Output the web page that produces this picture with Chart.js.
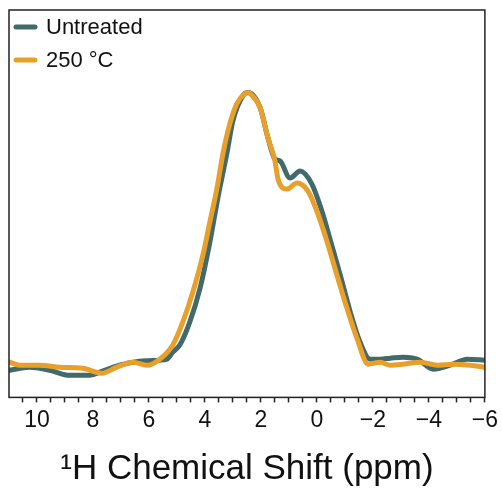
<!DOCTYPE html>
<html>
<head>
<meta charset="utf-8">
<script src="https://cdn.jsdelivr.net/npm/chart.js@4.4.0/dist/chart.umd.min.js"></script>
<style>
html, body { margin: 0; padding: 0; background: #fff; }
#wrap { width: 502px; height: 491px; }
</style>
</head>
<body>
<div id="wrap"><canvas id="nmr-chart"></canvas></div>
<script>
// 1H MAS NMR, intensities in arbitrary units
const untreatedShift = [10.98, 10.27, 9.55, 8.83, 8.12, 7.76, 7.05, 6.33, 5.61, 5.36, 5.15, 4.90, 4.54, 4.18, 3.82, 3.54, 3.22, 3.00, 2.64, 2.46, 2.03, 1.75, 1.50, 1.32, 0.96, 0.60, 0.18, -0.18, -0.46, -0.83, -1.19, -1.54, -1.90, -2.26, -2.62, -3.08, -3.58, -4.16, -4.76, -5.37, -6.0];
const untreatedIntensity = [27, 30, 27, 22, 22, 25, 32, 36, 37, 38, 45, 52, 75, 108, 155, 198, 242, 275, 300, 303, 288, 258, 237, 235, 218, 225, 212, 185, 158, 122, 85, 55, 38, 38, 39, 40, 38, 28, 32, 38, 37];
const heatedShift = [10.98, 10.62, 9.91, 9.19, 8.37, 7.69, 7.15, 6.58, 6.08, 5.61, 5.15, 4.79, 4.43, 4.07, 3.82, 3.57, 3.36, 3.11, 2.86, 2.57, 2.46, 2.39, 2.03, 1.75, 1.50, 1.39, 1.07, 0.71, 0.32, 0.00, -0.36, -0.71, -1.08, -1.44, -1.83, -2.26, -2.62, -3.08, -3.69, -4.30, -4.86, -5.48, -6.0];
const heatedIntensity = [35, 32, 32, 30, 29, 24, 30, 35, 32, 38, 52, 75, 105, 142, 175, 208, 242, 272, 292, 302, 303, 302, 288, 258, 235, 217, 207, 213, 205, 185, 155, 122, 88, 58, 33, 35, 32, 33, 35, 32, 33, 32, 30];
const seriesNames = ['Untreated', '250 °C'];
const seriesColors = ['#426a6b', '#e8a02a'];
const majorTicks = [10, 8, 6, 4, 2, 0, -2, -4, -6];

const fontFamily = "'Liberation Sans', Arial, Helvetica, sans-serif";

function toPoints(xs, ys) {
    return xs.map((x, i) => ({x: x, y: ys[i]}));
}

// box round the plot area
const frameBox = {
    id: 'frameBox',
    afterDraw(chart) {
        const {ctx, chartArea: {left, top, width, height}} = chart;
        ctx.save();
        ctx.strokeStyle = '#222';
        ctx.lineWidth = 1.5;
        ctx.strokeRect(left, top, width, height);
        ctx.restore();
    }
};

// legend in the top left corner of the plot, drawn from the datasets
const cornerLegend = {
    id: 'cornerLegend',
    afterDraw(chart) {
        const {ctx, chartArea: {left, top}} = chart;
        ctx.save();
        chart.data.datasets.forEach((ds, i) => {
            const y = top + 17 + i * 33;
            ctx.strokeStyle = ds.borderColor;
            ctx.lineWidth = 5;
            ctx.lineCap = 'round';
            ctx.beginPath();
            ctx.moveTo(left + 7, y);
            ctx.lineTo(left + 26, y);
            ctx.stroke();
            ctx.fillStyle = '#111';
            ctx.font = '22px ' + fontFamily;
            ctx.textBaseline = 'middle';
            ctx.fillText(ds.label, left + 37, y + 1);
        });
        ctx.restore();
    }
};

new Chart('nmr-chart', {
    type: 'line',
    data: {
        datasets: [{
            label: seriesNames[0],
            data: toPoints(untreatedShift, untreatedIntensity),
            borderColor: seriesColors[0],
            backgroundColor: seriesColors[0],
            borderWidth: 5,
            borderCapStyle: 'round',
            borderJoinStyle: 'round',
            pointRadius: 0,
            cubicInterpolationMode: 'monotone',
            fill: false,
            order: 2
        }, {
            label: seriesNames[1],
            data: toPoints(heatedShift, heatedIntensity),
            borderColor: seriesColors[1],
            backgroundColor: seriesColors[1],
            borderWidth: 5,
            borderCapStyle: 'round',
            borderJoinStyle: 'round',
            pointRadius: 0,
            cubicInterpolationMode: 'monotone',
            fill: false,
            order: 1
        }]
    },
    options: {
        responsive: true,
        maintainAspectRatio: false,
        animation: false,
        layout: {padding: {left: 9, top: 10, right: 2, bottom: 0}},
        plugins: {
            tooltip: {enabled: false},
            legend: {display: false}
        },
        scales: {
            x: {
                type: 'linear',
                reverse: true,
                min: -6,
                max: 11,
                afterBuildTicks(scale) {
                    // major ticks every 2 ppm, unlabelled ones every 0.5 ppm
                    const ticks = [];
                    for (let v = majorTicks[0] + 0.5; v >= majorTicks[majorTicks.length - 1]; v -= 0.5) {
                        ticks.push({value: v});
                    }
                    scale.ticks = ticks;
                },
                ticks: {
                    autoSkip: false,
                    maxRotation: 0,
                    padding: 4,
                    color: '#111',
                    font: {family: fontFamily, size: 23},
                    callback: (value) => majorTicks.includes(value) ? String(value).replace('-', '\u2212') : ''
                },
                grid: {
                    drawOnChartArea: false,
                    drawTicks: true,
                    tickLength: 5,
                    tickColor: '#222',
                    tickWidth: 1.5
                },
                border: {display: false},
                title: {
                    display: true,
                    text: '\u00b9H Chemical Shift (ppm)',
                    color: '#111',
                    font: {family: fontFamily, size: 35},
                    padding: {top: 10, bottom: 1}
                }
            },
            y: {
                display: false,
                min: 0,
                max: 385
            }
        }
    },
    plugins: [frameBox, cornerLegend]
});
</script>
</body>
</html>
